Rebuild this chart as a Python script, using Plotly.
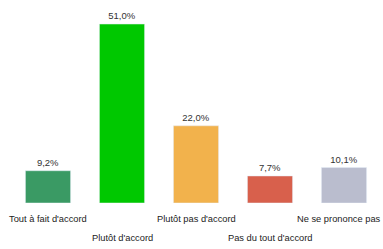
import plotly.graph_objects as go

categories = ["Tout à fait d'accord", "Plutôt d'accord", "Plutôt pas d'accord",
              "Pas du tout d'accord", "Ne se prononce pas"]
values = [9.2, 51.0, 22.0, 7.7, 10.1]
value_labels = ["9,2%", "51,0%", "22,0%", "7,7%", "10,1%"]
colors = ["#3a9a64", "#00c800", "#f2b24c", "#d8604c", "#babdce"]

fig = go.Figure(go.Bar(
    x=categories, y=values, text=value_labels, textposition="outside",
    textfont=dict(size=9.5, color="#333333", family="Liberation Sans"),
    marker=dict(color=colors), width=0.61, cliponaxis=False,
))
n = len(categories)
for i, c in enumerate(categories):
    fig.add_annotation(x=c, y=0, xref="x", yref="paper", text=c,
                       showarrow=False, yanchor="middle",
                       yshift=-16 if i % 2 == 0 else -35,
                       xshift=-5 if i == n - 1 else 0,
                       font=dict(size=9.3, color="#222222", family="Liberation Sans"))
fig.update_layout(
    width=383, height=249, margin=dict(l=11, r=2, t=10, b=46, autoexpand=False),
    paper_bgcolor="white", plot_bgcolor="white", showlegend=False,
    font=dict(family="Liberation Sans", size=10, color="#222222"),
)
fig.update_xaxes(showticklabels=False, showline=False, ticks="", showgrid=False,
                 automargin=False, range=[-0.5, n - 0.5])
fig.update_yaxes(range=[0, 55], visible=False, showgrid=False, automargin=False)
fig.write_html("out.html", config={"displayModeBar": False},
               post_script="document.body.style.margin='0';document.body.style.overflow='hidden';")
